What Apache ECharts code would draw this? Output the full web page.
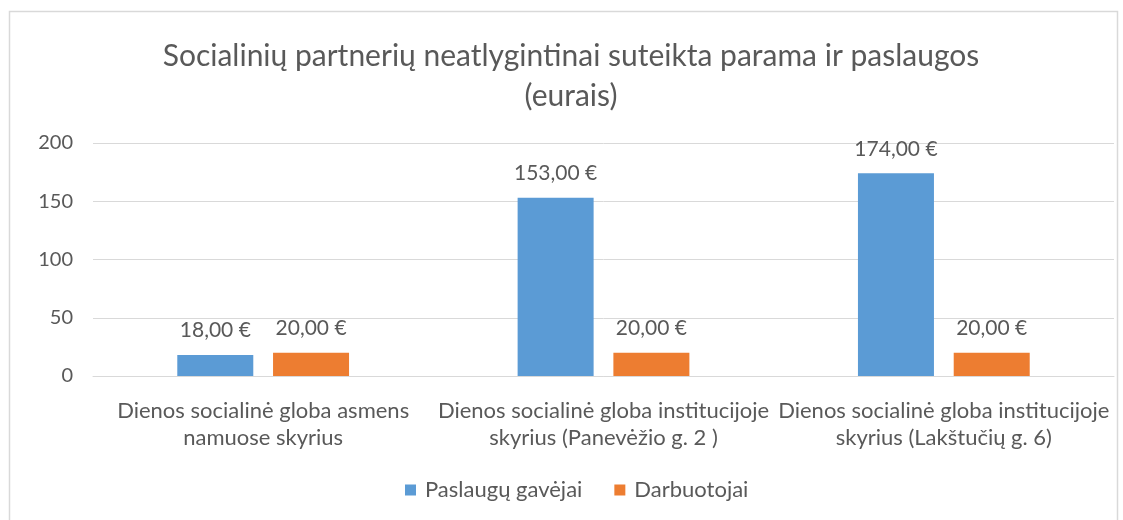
<!DOCTYPE html>
<html>
<head>
<meta charset="utf-8">
<script src="https://cdn.jsdelivr.net/npm/echarts@6/dist/echarts.min.js"></script>
<style>
  html, body { margin: 0; padding: 0; background: #fff; }
  #chart { width: 1123px; height: 520px; }
</style>
</head>
<body>
<div id="chart"></div>
<script>
  // duomenys
  const categories = [
    'Dienos socialinė globa asmens\nnamuose skyrius',
    'Dienos socialinė globa institucijoje\nskyrius (Panevėžio g. 2 )',
    'Dienos socialinė globa institucijoje\nskyrius (Lakštučių g. 6)'
  ]
  const gavejai = [18, 153, 174]
  const darbuotojai = [20, 20, 20]
  const seriesNames = ['Paslaugų gavėjai', 'Darbuotojai']

  const font = 'Lato, "Open Sans", sans-serif'
  const textColor = '#595959'
  const euro = p => p.value.toFixed(2).replace('.', ',') + ' €'

  let chart = echarts.init(document.getElementById('chart'))
  chart.setOption({
    animation: false,
    textStyle: { fontFamily: font, color: textColor },
    graphic: [{
      type: 'rect',
      shape: { x: 9.5, y: 11.5, width: 1108, height: 520 },
      style: { fill: 'none', stroke: '#d9d9d9', lineWidth: 1.5 },
      silent: true
    }],
    title: {
      text: 'Socialinių partnerių neatlygintinai suteikta parama ir paslaugos\n(eurais)',
      left: 566,
      textAlign: 'center',
      top: 31,
      textStyle: { fontFamily: font, fontSize: 30, fontWeight: 'normal', color: textColor, lineHeight: 40 }
    },
    legend: {
      data: seriesNames,
      bottom: 14,
      left: 400,
      itemWidth: 11,
      itemHeight: 11,
      itemGap: 32,
      icon: 'rect',
      selectedMode: false,
      textStyle: { fontFamily: font, fontSize: 22, color: textColor, padding: [0, 0, 0, 4] }
    },
    grid: { left: 93, right: 9, top: 143, bottom: 144 },
    xAxis: {
      type: 'category',
      data: categories,
      axisTick: { show: false },
      axisLine: { lineStyle: { color: '#d9d9d9' } },
      axisLabel: { fontFamily: font, fontSize: 22, color: textColor, lineHeight: 27, margin: 21, interval: 0 }
    },
    yAxis: {
      type: 'value',
      min: 0,
      max: 200,
      interval: 50,
      axisLine: { show: false },
      axisTick: { show: false },
      splitLine: { lineStyle: { color: '#d9d9d9' } },
      axisLabel: { fontFamily: font, fontSize: 20, color: textColor, margin: 20 }
    },
    series: [
      {
        name: seriesNames[0],
        type: 'bar',
        data: gavejai,
        barWidth: 76,
        barGap: '26%',
        itemStyle: { color: '#5b9bd5' },
        label: { show: true, position: 'top', distance: 14, formatter: euro, fontFamily: font, fontSize: 21, color: textColor }
      },
      {
        name: seriesNames[1],
        type: 'bar',
        data: darbuotojai,
        barWidth: 76,
        itemStyle: { color: '#ed7d31' },
        label: { show: true, position: 'top', distance: 14, formatter: euro, fontFamily: font, fontSize: 21, color: textColor }
      }
    ]
  })
</script>
</body>
</html>
